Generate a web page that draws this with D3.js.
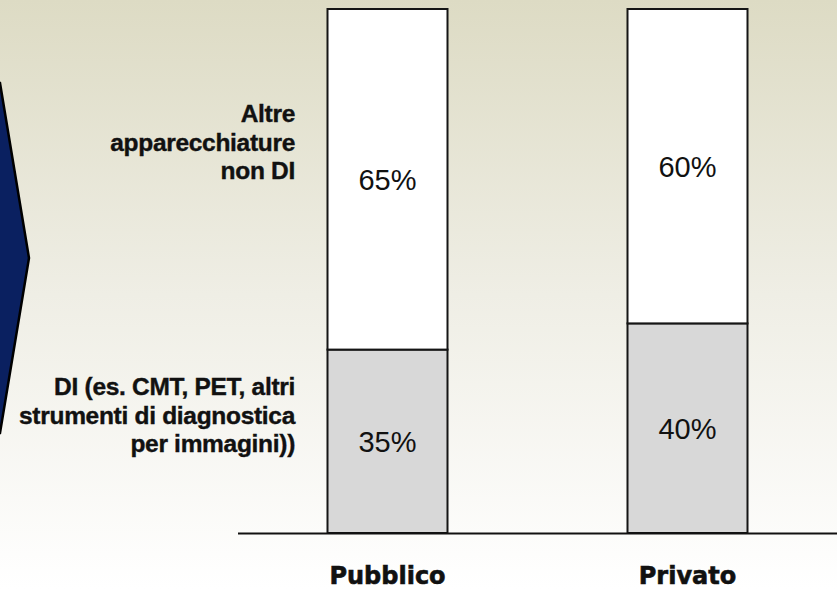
<!DOCTYPE html>
<html>
<head>
<meta charset="utf-8">
<script src="https://cdn.jsdelivr.net/npm/d3@7"></script>
<style>
  html, body { margin: 0; padding: 0; background: #fff; }
  svg { display: block; }
</style>
</head>
<body>
<div id="chart"></div>
<script>
// ------- Data -------
const categories = ["Pubblico", "Privato"];
const segmentKeys = ["di", "altre"];
const diValues = [35, 40];      // DI (bottom, grey)
const altreValues = [65, 60];   // Altre apparecchiature (top, white)

const labelAltre = ["Altre", "apparecchiature", "non DI"];
const labelDI = ["DI (es. CMT, PET, altri", "strumenti di diagnostica", "per immagini))"];

// ------- Layout -------
const width = 837;
const height = 589;
const baseY = 533;
const topY = 9;

const svg = d3
  .select("#chart")
  .append("svg")
  .attr("width", width)
  .attr("height", height);

// background gradient
const defs = svg.append("defs");
const grad = defs
  .append("linearGradient")
  .attr("id", "bg")
  .attr("x1", 0).attr("y1", 0)
  .attr("x2", 0).attr("y2", 1);
grad.append("stop").attr("offset", "0%").attr("stop-color", "#dddbc4");
grad.append("stop").attr("offset", "50%").attr("stop-color", "#efeee5");
grad.append("stop").attr("offset", "100%").attr("stop-color", "#ffffff");

svg.append("rect")
  .attr("width", width)
  .attr("height", height)
  .attr("fill", "url(#bg)");

// chevron on the left edge
svg.append("path")
  .attr("d", "M-5,83 L0,83 L29,258 L0,433 L-5,433 Z")
  .attr("fill", "#0a2060")
  .attr("stroke", "#000")
  .attr("stroke-width", 2.5);

// ------- Scales -------
const x = d3
  .scaleBand()
  .domain(categories)
  .range([237.5, 837.5])
  .paddingInner(0.6)
  .paddingOuter(0.3);

const y = d3.scaleLinear().domain([0, 100]).range([baseY, topY]);

const rows = categories.map((c, i) => ({
  cat: c,
  di: diValues[i],
  altre: altreValues[i],
}));

const series = d3.stack().keys(segmentKeys)(rows);
const fills = { di: "#d8d8d8", altre: "#ffffff" };

// ------- Bars -------
const layers = svg
  .selectAll("g.layer")
  .data(series)
  .join("g")
  .attr("class", "layer")
  .attr("fill", (d) => fills[d.key]);

layers
  .selectAll("rect")
  .data((d) => d)
  .join("rect")
  .attr("x", (d) => x(d.data.cat))
  .attr("y", (d) => y(d[1]))
  .attr("width", x.bandwidth())
  .attr("height", (d) => y(d[0]) - y(d[1]))
  .attr("stroke", "#151515")
  .attr("stroke-width", 2);

// percent labels
layers
  .selectAll("text")
  .data((d) => d)
  .join("text")
  .attr("x", (d) => x(d.data.cat) + x.bandwidth() / 2)
  .attr("y", (d) => (y(d[0]) + y(d[1])) / 2 + 11)
  .attr("text-anchor", "middle")
  .attr("fill", "#111")
  .style("font-family", "'Liberation Sans', Arial, sans-serif")
  .style("font-size", "29px")
  .text((d) => d[1] - d[0] + "%");

// ------- Axis -------
const xAxis = d3.axisBottom(x).tickSize(0).tickSizeOuter(0).tickPadding(0);

const axisG = svg
  .append("g")
  .attr("transform", `translate(0,${baseY})`)
  .call(xAxis);

axisG.select(".domain").attr("stroke", "#111").attr("stroke-width", 2);
axisG
  .selectAll(".tick text")
  .attr("y", 51)
  .attr("dy", 0)
  .attr("fill", "#111")
  .attr("stroke", "#111")
  .attr("stroke-width", 0.6)
  .style("font-family", "'DejaVu Sans', Verdana, sans-serif")
  .style("font-weight", "bold")
  .style("font-size", "24px");

// ------- Left labels -------
function addLabel(lines, firstBaseline) {
  const t = svg
    .append("text")
    .attr("text-anchor", "end")
    .attr("fill", "#111")
    .attr("stroke", "#111")
    .attr("stroke-width", 0.4)
    .style("font-family", "'Liberation Sans', Arial, sans-serif")
    .style("font-weight", "bold")
    .style("font-size", "24.5px")
    .style("letter-spacing", "-0.3px");
  lines.forEach((line, i) => {
    t.append("tspan")
      .attr("x", 295)
      .attr("y", firstBaseline + i * 28.5)
      .text(line);
  });
}

addLabel(labelAltre, 122);
addLabel(labelDI, 395);
</script>
</body>
</html>
